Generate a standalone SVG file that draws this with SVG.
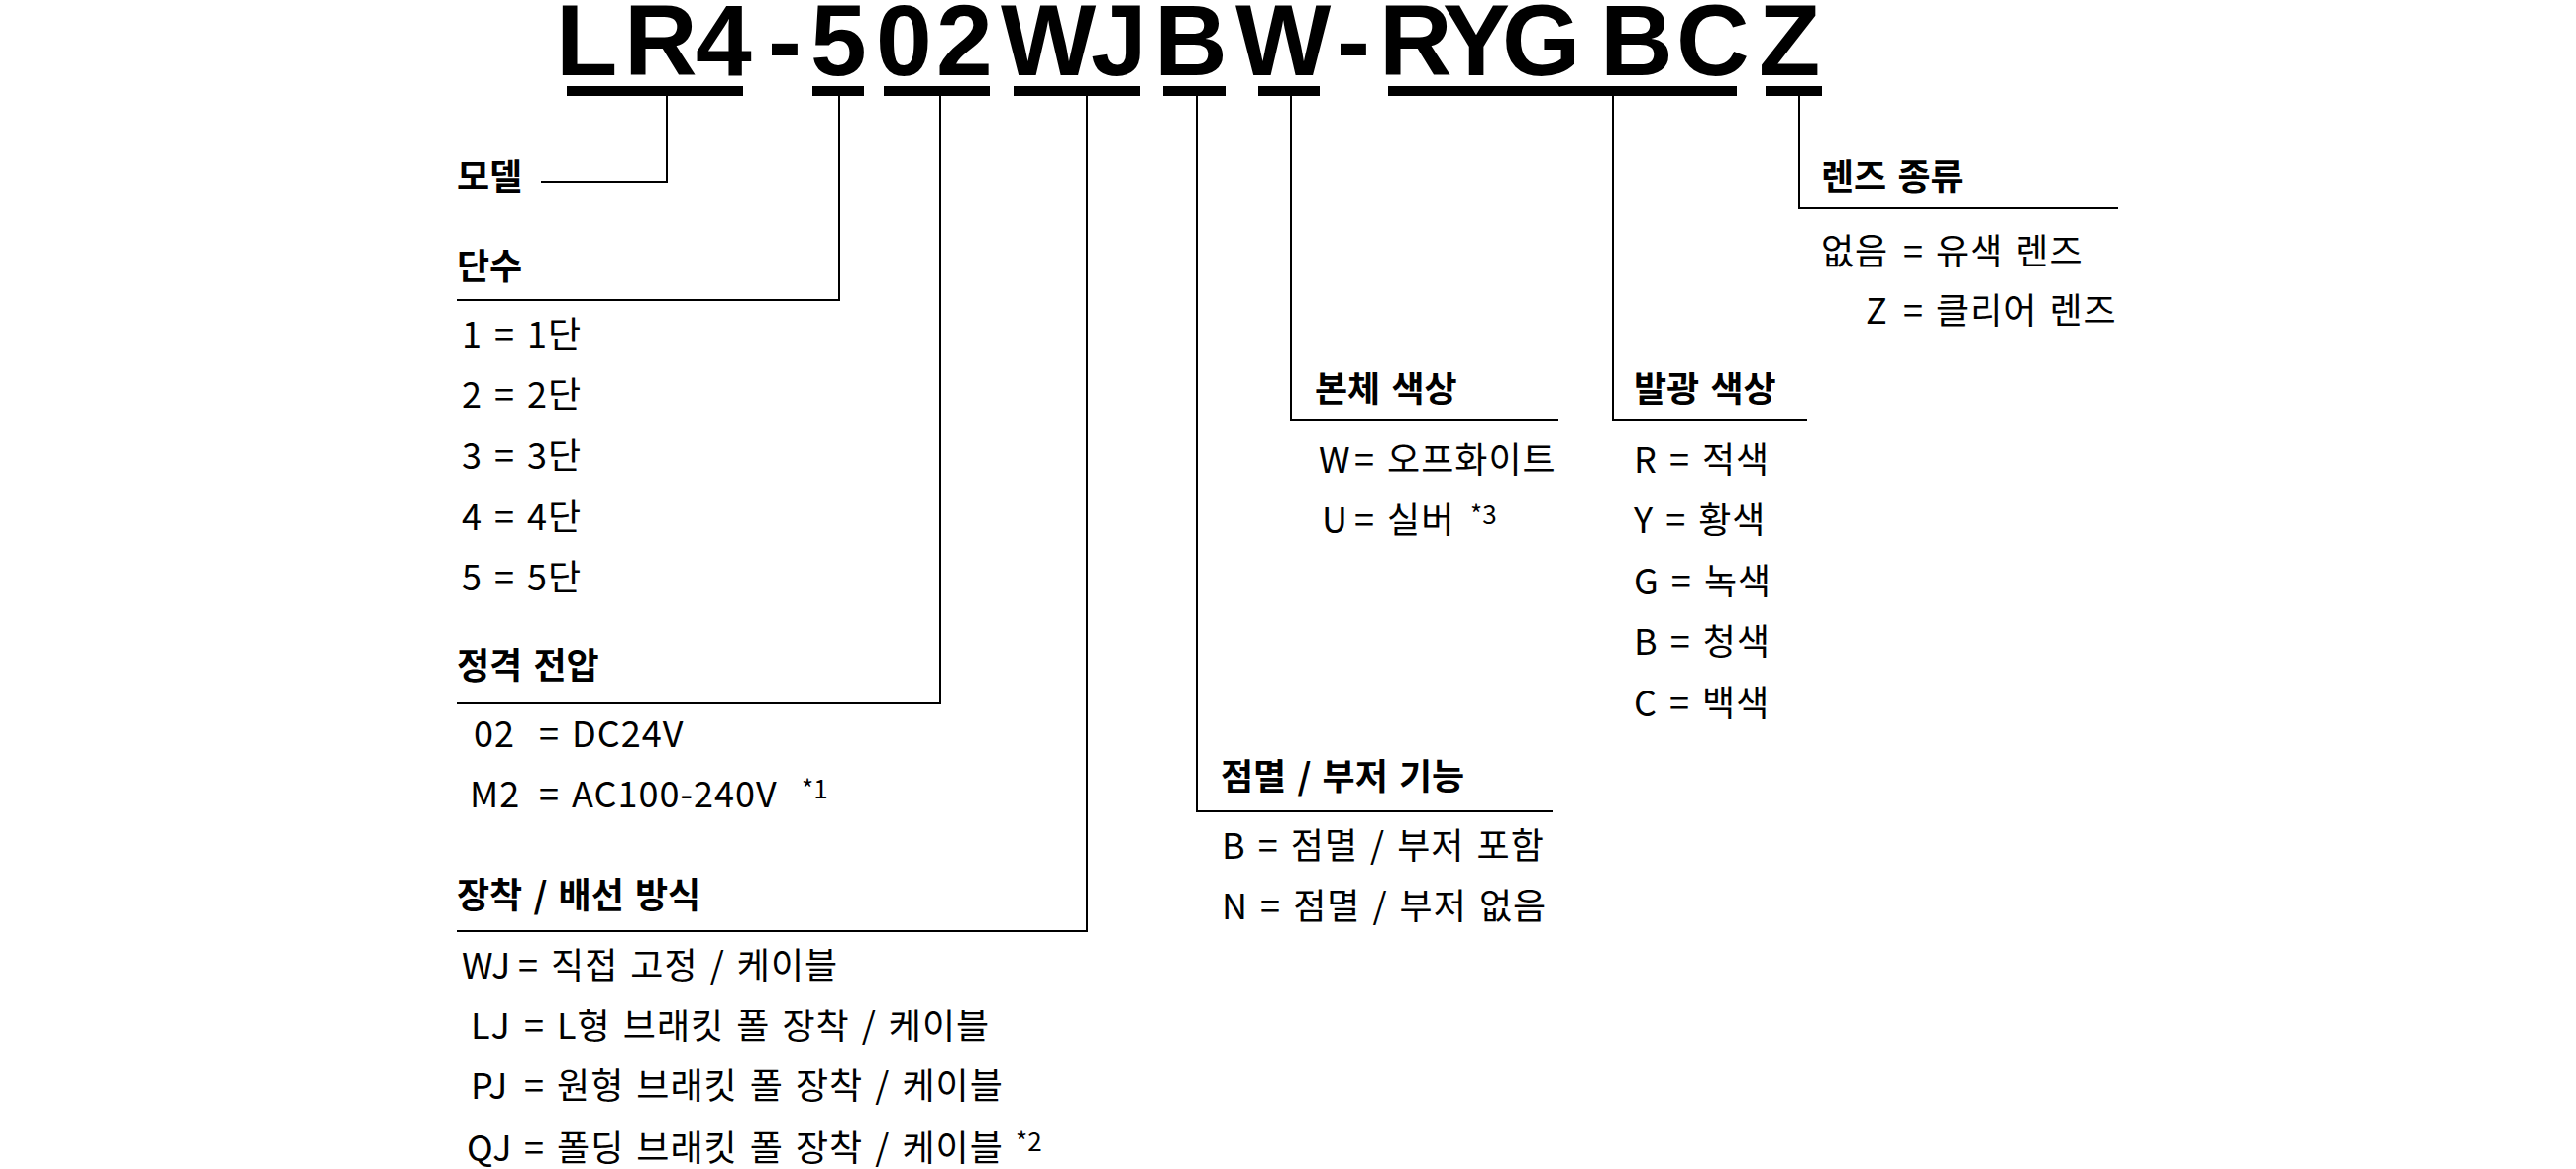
<svg xmlns="http://www.w3.org/2000/svg" width="2600" height="1180" viewBox="0 0 2600 1180">
<style>
.code{font-family:"Liberation Sans",Arial,sans-serif;font-weight:bold;font-size:102px;fill:#000}
.h{font-family:"Noto Sans CJK KR",sans-serif;font-weight:bold;font-size:36px;word-spacing:3px;fill:#000}
.t{font-family:"Noto Sans CJK KR",sans-serif;font-weight:normal;font-size:36px;letter-spacing:1px;word-spacing:3px;fill:#000}
.sup{font-size:26px;letter-spacing:0}
.bar{fill:#000}
.conn{fill:none;stroke:#000;stroke-width:2}
</style>
<rect width="2600" height="1180" fill="#fff"/>
<g id="model-code">
<text class="code" y="76"><tspan x="561">L</tspan><tspan x="630">R</tspan><tspan x="702">4</tspan><tspan x="775">-</tspan><tspan x="818">5</tspan><tspan x="884">0</tspan><tspan x="945">2</tspan><tspan x="1010">W</tspan><tspan x="1101">J</tspan><tspan x="1165">B</tspan><tspan x="1247">W</tspan><tspan x="1349">-</tspan><tspan x="1392">R</tspan><tspan x="1456">Y</tspan><tspan x="1516">G</tspan><tspan x="1615">B</tspan><tspan x="1692">C</tspan><tspan x="1775">Z</tspan></text>
<rect class="bar" x="572" y="87" width="178" height="10"/>
<rect class="bar" x="820" y="87" width="52" height="10"/>
<rect class="bar" x="892" y="87" width="107" height="10"/>
<rect class="bar" x="1023" y="87" width="128" height="10"/>
<rect class="bar" x="1174" y="87" width="63" height="10"/>
<rect class="bar" x="1270" y="87" width="62" height="10"/>
<rect class="bar" x="1401" y="87" width="352" height="10"/>
<rect class="bar" x="1782" y="87" width="57" height="10"/>
</g>
<g id="connectors">
<polyline class="conn" points="673,97 673,184 546,184"/>
<polyline class="conn" points="847,97 847,303 461,303"/>
<polyline class="conn" points="949,97 949,710 461,710"/>
<polyline class="conn" points="1097,97 1097,940 461,940"/>
<polyline class="conn" points="1208,97 1208,819 1567,819"/>
<polyline class="conn" points="1303,97 1303,424 1573,424"/>
<polyline class="conn" points="1628,97 1628,424 1824,424"/>
<polyline class="conn" points="1816,97 1816,210 2138,210"/>
</g>
<g id="model">
<text class="h" x="461" y="192">모델</text>
</g>
<g id="stages">
<text class="h" x="461" y="282">단수</text>
<text class="t" x="466" y="351">1 = 1단</text>
<text class="t" x="466" y="412">2 = 2단</text>
<text class="t" x="466" y="473">3 = 3단</text>
<text class="t" x="466" y="535">4 = 4단</text>
<text class="t" x="466" y="596">5 = 5단</text>
</g>
<g id="voltage">
<text class="h" x="461" y="685">정격 전압</text>
<text class="t" y="754"><tspan x="478">02</tspan><tspan x="544">= DC24V</tspan></text>
<text class="t" y="815"><tspan x="474">M2</tspan><tspan x="544">= AC100-240V</tspan><tspan class="sup" x="809" dy="-9">*1</tspan></text>
</g>
<g id="mounting">
<text class="h" x="461" y="917">장착 / 배선 방식</text>
<text class="t" y="988"><tspan x="466">WJ</tspan><tspan x="523">= 직접 고정 / 케이블</tspan></text>
<text class="t" y="1049"><tspan x="475">LJ</tspan><tspan x="529">= L형 브래킷 폴 장착 / 케이블</tspan></text>
<text class="t" y="1109"><tspan x="475">PJ</tspan><tspan x="529">= 원형 브래킷 폴 장착 / 케이블</tspan></text>
<text class="t" y="1172"><tspan x="471">QJ</tspan><tspan x="529">= 폴딩 브래킷 폴 장착 / 케이블</tspan><tspan class="sup" x="1025" dy="-10">*2</tspan></text>
</g>
<g id="flash-buzzer">
<text class="h" x="1232" y="797">점멸 / 부저 기능</text>
<text class="t" x="1233" y="867">B = 점멸 / 부저 포함</text>
<text class="t" x="1233" y="928">N = 점멸 / 부저 없음</text>
</g>
<g id="body-color">
<text class="h" x="1327" y="406">본체 색상</text>
<text class="t" y="477"><tspan x="1331">W</tspan><tspan x="1367">= 오프화이트</tspan></text>
<text class="t" y="538"><tspan x="1334">U</tspan><tspan x="1367">= 실버</tspan><tspan class="sup" x="1484" dy="-9">*3</tspan></text>
</g>
<g id="light-color">
<text class="h" x="1649" y="406">발광 색상</text>
<text class="t" x="1649" y="477">R = 적색</text>
<text class="t" x="1649" y="538">Y = 황색</text>
<text class="t" x="1649" y="600">G = 녹색</text>
<text class="t" x="1649" y="661">B = 청색</text>
<text class="t" x="1649" y="723">C = 백색</text>
</g>
<g id="lens">
<text class="h" x="1838" y="192">렌즈 종류</text>
<text class="t" y="267"><tspan x="1838">없음</tspan><tspan x="1921">= 유색 렌즈</tspan></text>
<text class="t" y="327"><tspan x="1883">Z</tspan><tspan x="1921">= 클리어 렌즈</tspan></text>
</g>
</svg>
